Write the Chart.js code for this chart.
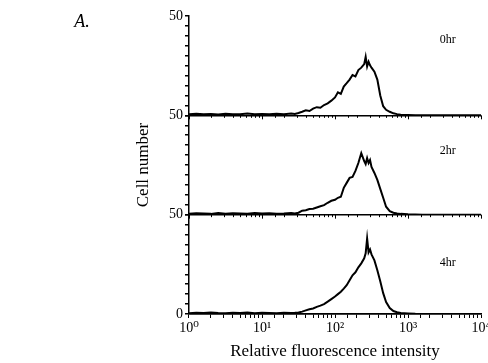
<!DOCTYPE html>
<html>
<head>
<meta charset="utf-8">
<script src="https://cdn.jsdelivr.net/npm/chart.js@4.4.0/dist/chart.umd.min.js"></script>
<style>
  html, body { margin: 0; padding: 0; background: #fff; }
  #wrap { width: 488px; height: 363px; }
</style>
</head>
<body>
<div id="wrap"><canvas id="chart"></canvas></div>
<script>
// log10 of relative fluorescence intensity for each histogram bin
const logBins = [0.00, 0.10, 0.20, 0.30, 0.40, 0.50, 0.60, 0.70, 0.80, 0.90,
  1.00, 1.10, 1.20, 1.30, 1.40, 1.45, 1.50, 1.55, 1.60, 1.65, 1.70, 1.75, 1.80,
  1.85, 1.90, 1.95, 2.00, 2.04, 2.08, 2.12, 2.16, 2.20, 2.24, 2.28, 2.32, 2.36,
  2.40, 2.42, 2.44, 2.46, 2.48, 2.50, 2.54, 2.58, 2.62, 2.66, 2.70, 2.75, 2.80,
  2.85, 2.90, 3.00, 3.10, 3.20, 3.40, 3.60, 3.80, 4.00];

const cells0hr = [0.6, 0.8, 0.5, 0.7, 0.4, 0.8, 0.6, 0.5, 0.9, 0.6,
  0.7, 0.5, 0.8, 0.6, 0.9, 0.7, 1.2, 1.8, 2.5, 2.2, 3.4, 4.1, 3.8,
  5.2, 6.0, 7.4, 9.0, 11.6, 10.8, 14.5, 16.2, 18.0, 20.3, 19.6, 22.8, 24.0,
  25.8, 29.5, 24.6, 27.0, 25.2, 24.0, 22.0, 18.0, 10.0, 4.6, 2.8, 1.8, 1.0,
  0.6, 0.3, 0.2, 0.1, 0, 0, 0, 0, 0];

const cells2hr = [0.5, 0.7, 0.6, 0.4, 0.8, 0.5, 0.7, 0.6, 0.5, 0.8,
  0.6, 0.7, 0.5, 0.6, 0.8, 0.6, 1.0, 2.0, 2.2, 2.8, 3.0, 3.6, 4.2,
  4.8, 6.0, 7.0, 7.5, 8.5, 9.0, 13.5, 16.0, 18.5, 19.0, 22.0, 26.0, 31.0,
  27.0, 25.5, 28.5, 26.0, 27.5, 24.0, 21.0, 17.5, 13.0, 8.5, 4.0, 1.8, 1.0,
  0.6, 0.4, 0.2, 0.1, 0, 0, 0, 0, 0];

const cells4hr = [0.4, 0.6, 0.5, 0.7, 0.5, 0.4, 0.6, 0.5, 0.7, 0.4,
  0.6, 0.5, 0.4, 0.6, 0.5, 0.6, 0.8, 1.2, 1.8, 2.4, 2.8, 3.6, 4.2,
  5.0, 6.2, 7.5, 8.8, 10.0, 11.2, 12.8, 14.5, 17.0, 19.5, 21.0, 23.5, 25.5,
  28.0, 30.5, 38.0, 31.0, 32.5, 30.0, 27.0, 22.0, 16.5, 10.5, 6.0, 3.0, 1.5,
  0.9, 0.5, 0.3, 0.1, 0, 0, 0, 0, 0];

const panelLabels = ['0hr', '2hr', '4hr'];
const xTickLabels = ['10\u2070', '10\u00b9', '10\u00b2', '10\u00b3', '10\u2074'];

const serif = '"Liberation Serif", "DejaVu Serif", serif';

function toPoints(vals) {
  return vals.map((v, i) => ({ x: Math.pow(10, logBins[i]), y: v }));
}

function lineSet(label, vals, axis) {
  return {
    label: label,
    data: toPoints(vals),
    yAxisID: axis,
    borderColor: '#000',
    borderWidth: 2,
    pointRadius: 0,
    tension: 0,
    fill: false
  };
}

function yAxis(showZero, title) {
  return {
    type: 'linear',
    position: 'left',
    stack: 'cells',
    stackWeight: 1,
    min: 0,
    max: 50,
    border: { display: true, color: '#000', width: 1.5 },
    grid: {
      drawTicks: true,
      tickLength: 4,
      tickColor: '#000',
      lineWidth: 1.5,
      color: ctx => (ctx.tick && ctx.tick.value === 0) ? '#000' : 'rgba(0,0,0,0)'
    },
    ticks: {
      stepSize: 5,
      autoSkip: false,
      padding: 2,
      color: '#000',
      font: { family: serif, size: 14 },
      callback: v => v === 50 ? '50' : (showZero && v === 0 ? '0' : '')
    },
    title: {
      display: !!title,
      text: title || '',
      color: '#000',
      font: { family: serif, size: 17 },
      padding: { top: 3, bottom: 0 }
    },
    afterFit: s => {
      s.width = 59;
      s.paddingTop = 0;
      s.paddingBottom = 0;
    }
  };
}

// annotations: panel names, panel letter, x ticks on the upper baselines
const notes = {
  id: 'notes',
  afterDraw(chart) {
    const c = chart.ctx;
    const xs = chart.scales.x;
    const ids = ['yTop', 'yMid', 'yBot'];
    const labelY = [38, 32, 26];
    c.save();
    c.fillStyle = '#000';
    c.textAlign = 'center';
    c.textBaseline = 'middle';
    c.font = '12px ' + serif;
    ids.forEach((id, i) => {
      const ys = chart.scales[id];
      c.fillText(panelLabels[i], xs.getPixelForValue(3500), ys.getPixelForValue(labelY[i]));
    });
    c.font = 'italic 18px ' + serif;
    c.fillText('A.', 82, 22);
    // minor x ticks under the two upper baselines
    c.strokeStyle = '#000';
    c.lineWidth = 1;
    ['yTop', 'yMid'].forEach(id => {
      const y0 = chart.scales[id].getPixelForValue(0);
      xs.ticks.forEach(t => {
        const px = Math.round(xs.getPixelForValue(t.value)) + 0.5;
        const len = t.major ? 4 : 2.5;
        c.beginPath();
        c.moveTo(px, y0);
        c.lineTo(px, y0 + len);
        c.stroke();
      });
    });
    c.restore();
  }
};

new Chart(document.getElementById('chart'), {
  type: 'line',
  data: {
    datasets: [
      lineSet('0hr', cells0hr, 'yTop'),
      lineSet('2hr', cells2hr, 'yMid'),
      lineSet('4hr', cells4hr, 'yBot')
    ]
  },
  options: {
    responsive: true,
    maintainAspectRatio: false,
    animation: false,
    layout: { padding: { left: 130, top: 16, right: 7, bottom: 0 } },
    plugins: { legend: { display: false }, tooltip: { enabled: false } },
    scales: {
      x: {
        type: 'logarithmic',
        position: 'bottom',
        min: 1,
        max: 10000,
        border: { display: true, color: '#000', width: 1.5 },
        grid: { drawOnChartArea: false, tickLength: 4, tickColor: '#000' },
        ticks: {
          padding: 2,
          maxRotation: 0,
          autoSkip: false,
          color: '#000',
          font: { family: serif, size: 14 },
          callback: v => {
            const e = Math.log10(v);
            return Math.abs(e - Math.round(e)) < 1e-9 ? xTickLabels[Math.round(e)] : '';
          }
        },
        title: {
          display: true,
          text: 'Relative fluorescence intensity',
          color: '#000',
          font: { family: serif, size: 17 },
          padding: { top: 0, bottom: 1 }
        },
        afterFit: s => {
          s.height = 49;
          s.paddingLeft = 0;
          s.paddingRight = 0;
        }
      },
      // stacked from the bottom up
      yBot: yAxis(true, ''),
      yMid: yAxis(false, 'Cell number'),
      yTop: yAxis(false, '')
    }
  },
  plugins: [notes]
});
</script>
</body>
</html>
